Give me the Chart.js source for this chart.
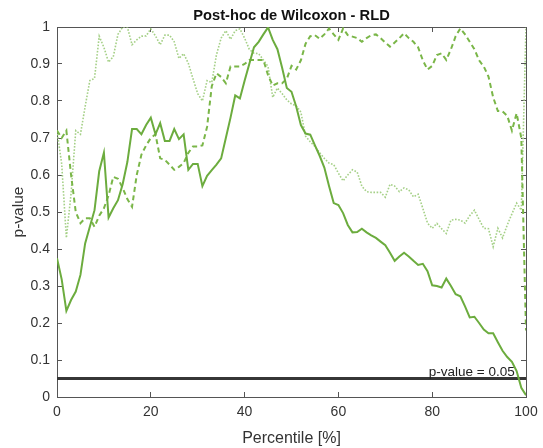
<!DOCTYPE html>
<html>
<head>
<meta charset="utf-8">
<script src="https://cdn.jsdelivr.net/npm/chart.js@4.4.1/dist/chart.umd.min.js"></script>
<style>
  html, body { margin: 0; padding: 0; background: #fff; }
  #wrap { width: 543px; height: 448px; position: relative; }
</style>
</head>
<body>
<div id="wrap"><canvas id="wilcoxonChart"></canvas></div>
<script>
// Percentiles (eje X)
const percentiles = [
  0, 1, 2, 3, 4, 5, 6, 7, 8, 9,
  10, 11, 12, 13, 14, 15, 16, 17, 18, 19,
  20, 21, 22, 23, 24, 25, 26, 27, 28, 29,
  30, 31, 32, 33, 34, 35, 36, 37, 38, 39,
  40, 41, 42, 43, 44, 45, 46, 47, 48, 49,
  50, 51, 52, 53, 54, 55, 56, 57, 58, 59,
  60, 61, 62, 63, 64, 65, 66, 67, 68, 69,
  70, 71, 72, 73, 74, 75, 76, 77, 78, 79,
  80, 81, 82, 83, 84, 85, 86, 87, 88, 89,
  90, 91, 92, 93, 94, 95, 96, 97, 98, 99,
  100
];

// linea continua
const pSolid = [
  0.375, 0.318, 0.233, 0.262, 0.285, 0.33, 0.415, 0.46, 0.505, 0.61,
  0.66, 0.485, 0.51, 0.532, 0.575, 0.635, 0.724, 0.724, 0.71, 0.735,
  0.755, 0.71, 0.74, 0.692, 0.692, 0.724, 0.697, 0.71, 0.614, 0.63,
  0.63, 0.57, 0.598, 0.613, 0.628, 0.645, 0.70, 0.755, 0.815, 0.807,
  0.855, 0.9, 0.945, 0.96, 0.98, 0.999, 0.965, 0.94, 0.89, 0.835,
  0.825, 0.785, 0.735, 0.712, 0.709, 0.68, 0.652, 0.62, 0.57, 0.524,
  0.519, 0.497, 0.465, 0.445, 0.446, 0.455, 0.445, 0.437, 0.43, 0.42,
  0.41, 0.39, 0.368, 0.38, 0.39, 0.38, 0.368, 0.357, 0.36, 0.34,
  0.302, 0.3, 0.296, 0.32, 0.3, 0.278, 0.272, 0.245, 0.215, 0.217,
  0.2, 0.182, 0.172, 0.172, 0.148, 0.125, 0.108, 0.095, 0.07, 0.025,
  0.005
];

// linea discontinua
const pDashed = [
  0.72, 0.70, 0.72, 0.60, 0.50, 0.47, 0.483, 0.483, 0.46, 0.49,
  0.51, 0.545, 0.595, 0.59, 0.565, 0.535, 0.514, 0.60, 0.655, 0.68,
  0.70, 0.71, 0.645, 0.641, 0.628, 0.614, 0.622, 0.632, 0.66, 0.677,
  0.677, 0.68, 0.73, 0.84, 0.875, 0.865, 0.848, 0.893, 0.893, 0.893,
  0.90, 0.911, 0.911, 0.911, 0.911, 0.87, 0.842, 0.848, 0.848, 0.86,
  0.895, 0.885, 0.91, 0.955, 0.975, 0.978, 0.968, 0.98, 0.996, 0.98,
  0.965, 0.996, 0.978, 0.974, 0.97, 0.96, 0.97, 0.978, 0.98, 0.97,
  0.958, 0.947, 0.958, 0.97, 0.983, 0.97, 0.96, 0.945, 0.91, 0.885,
  0.895, 0.924, 0.929, 0.911, 0.94, 0.975, 0.996, 0.98, 0.96, 0.94,
  0.91, 0.893, 0.866, 0.81, 0.773, 0.772, 0.76, 0.72, 0.767, 0.70,
  0.18
];

// linea punteada
const pDotted = [
  0.72, 0.63, 0.43, 0.55, 0.72, 0.71, 0.785, 0.855, 0.861, 0.975,
  0.945, 0.905, 0.92, 0.98, 1.0, 1.0, 0.952, 0.965, 0.975, 0.976,
  0.995, 0.976, 0.952, 0.978, 0.978, 0.96, 0.915, 0.928, 0.902, 0.86,
  0.82, 0.80, 0.855, 0.85, 0.925, 0.97, 0.99, 0.967, 0.99, 0.995,
  0.97, 0.94, 0.929, 0.928, 0.911, 0.893, 0.81, 0.835, 0.82, 0.803,
  0.792, 0.787, 0.77, 0.705, 0.69, 0.677, 0.66, 0.645, 0.632, 0.628,
  0.605, 0.584, 0.60, 0.614, 0.608, 0.57, 0.555, 0.553, 0.553, 0.553,
  0.54, 0.575, 0.57, 0.555, 0.565, 0.56, 0.541, 0.548, 0.51, 0.47,
  0.456, 0.469, 0.455, 0.442, 0.478, 0.48, 0.478, 0.47, 0.49, 0.505,
  0.48, 0.456, 0.455, 0.406, 0.456, 0.43, 0.465, 0.495, 0.524, 0.505,
  1.0
];

// umbral de significancia
const threshold = 0.05;
const thresholdX = [0, 100];
const thresholdLabel = "p-value = 0.05";
const chartTitle = "Post-hoc de Wilcoxon - RLD";

const xTicks = [0, 20, 40, 60, 80, 100];
const yTicks = [0, 0.1, 0.2, 0.3, 0.4, 0.5, 0.6, 0.7, 0.8, 0.9, 1];

const toPoints = (vals) => vals.map((v, i) => ({ x: percentiles[i], y: v }));

const fontFamily = "'Liberation Sans', Arial, sans-serif";
Chart.defaults.font.family = fontFamily;
Chart.defaults.color = "#333";

const axisColor = "#555";
const boxGrid = {
  drawOnChartArea: false,
  drawTicks: true,
  tickLength: -5, // marcas hacia dentro
  color: axisColor,
  lineWidth: 1,
};

// sin margen extra por las etiquetas de los extremos
const noEdgePadding = (scale) => {
  scale.paddingLeft = 0;
  scale.paddingRight = 0;
  scale.paddingTop = 0;
  scale.paddingBottom = 0;
};

// titulo centrado sobre el area del grafico + texto del umbral
const annotationsPlugin = {
  id: "annotations",
  afterDraw(chart) {
    const { ctx, scales, chartArea } = chart;
    ctx.save();
    ctx.font = "bold 14.7px " + fontFamily;
    ctx.fillStyle = "#111";
    ctx.textAlign = "center";
    ctx.textBaseline = "middle";
    ctx.fillText(chartTitle, (chartArea.left + chartArea.right) / 2, 16);

    ctx.font = "13.5px " + fontFamily;
    ctx.fillStyle = "#222";
    ctx.textAlign = "right";
    ctx.textBaseline = "alphabetic";
    ctx.fillText(thresholdLabel, scales.x.getPixelForValue(97.6), scales.y.getPixelForValue(threshold) - 3);
    ctx.restore();
  },
};

const wilcoxonChartConfig = {
  type: "line",
  data: {
    datasets: [
      {
        label: "p = 0.05",
        data: thresholdX.map((x) => ({ x: x, y: threshold })),
        borderColor: "#363636",
        borderWidth: 3,
        pointRadius: 0,
        order: 4,
      },
      {
        label: "dotted",
        data: toPoints(pDotted),
        borderColor: "rgb(165, 208, 135)",
        borderWidth: 1.6,
        borderDash: [1.6, 1.6],
        pointRadius: 0,
        order: 3,
      },
      {
        label: "dashed",
        data: toPoints(pDashed),
        borderColor: "rgb(122, 182, 72)",
        borderWidth: 2,
        borderDash: [5, 3.5],
        pointRadius: 0,
        order: 2,
      },
      {
        label: "solid",
        data: toPoints(pSolid),
        borderColor: "rgb(108, 172, 62)",
        borderWidth: 2,
        pointRadius: 0,
        order: 1,
      },
    ],
  },
  options: {
    responsive: true,
    maintainAspectRatio: false,
    animation: false,
    devicePixelRatio: 1,
    layout: { padding: { left: 0, right: 17, top: 27, bottom: 0 } },
    plugins: {
      legend: { display: false },
      tooltip: { enabled: false },
      title: { display: false },
    },
    scales: {
      x: {
        type: "linear",
        position: "bottom",
        min: 0,
        max: 100,
        afterBuildTicks: (scale) => { scale.ticks = xTicks.map((v) => ({ value: v })); },
        afterFit: (scale) => { scale.height = 51; noEdgePadding(scale); },
        ticks: { font: { size: 14 }, color: "#333", padding: 12 },
        grid: boxGrid,
        border: { color: axisColor, width: 1 },
        title: {
          display: true,
          text: "Percentile [%]",
          color: "#333",
          font: { size: 16 },
          padding: { top: 0, bottom: 0 },
        },
      },
      x2: {
        type: "linear",
        position: "top",
        min: 0,
        max: 100,
        afterBuildTicks: (scale) => { scale.ticks = xTicks.map((v) => ({ value: v })); },
        afterFit: (scale) => { scale.height = 0; noEdgePadding(scale); },
        ticks: { display: false },
        grid: boxGrid,
        border: { color: axisColor, width: 1 },
      },
      y: {
        type: "linear",
        position: "left",
        min: 0,
        max: 1,
        afterBuildTicks: (scale) => { scale.ticks = yTicks.map((v) => ({ value: v })); },
        afterFit: (scale) => { scale.width = 57; noEdgePadding(scale); },
        ticks: {
          font: { size: 14 },
          color: "#333",
          padding: 12,
          callback: (v) => String(Math.round(v * 10) / 10),
        },
        grid: boxGrid,
        border: { color: axisColor, width: 1 },
        title: {
          display: true,
          text: "p-value",
          color: "#333",
          font: { size: 15.5 },
          padding: { top: 9.5, bottom: 0 },
        },
      },
      y2: {
        type: "linear",
        position: "right",
        min: 0,
        max: 1,
        afterBuildTicks: (scale) => { scale.ticks = yTicks.map((v) => ({ value: v })); },
        afterFit: (scale) => { scale.width = 0; noEdgePadding(scale); },
        ticks: { display: false },
        grid: boxGrid,
        border: { color: axisColor, width: 1 },
      },
    },
  },
  plugins: [annotationsPlugin],
};

document.addEventListener("DOMContentLoaded", () => {
  const wilcoxonChart = new Chart("wilcoxonChart", wilcoxonChartConfig);
});
</script>
</body>
</html>
